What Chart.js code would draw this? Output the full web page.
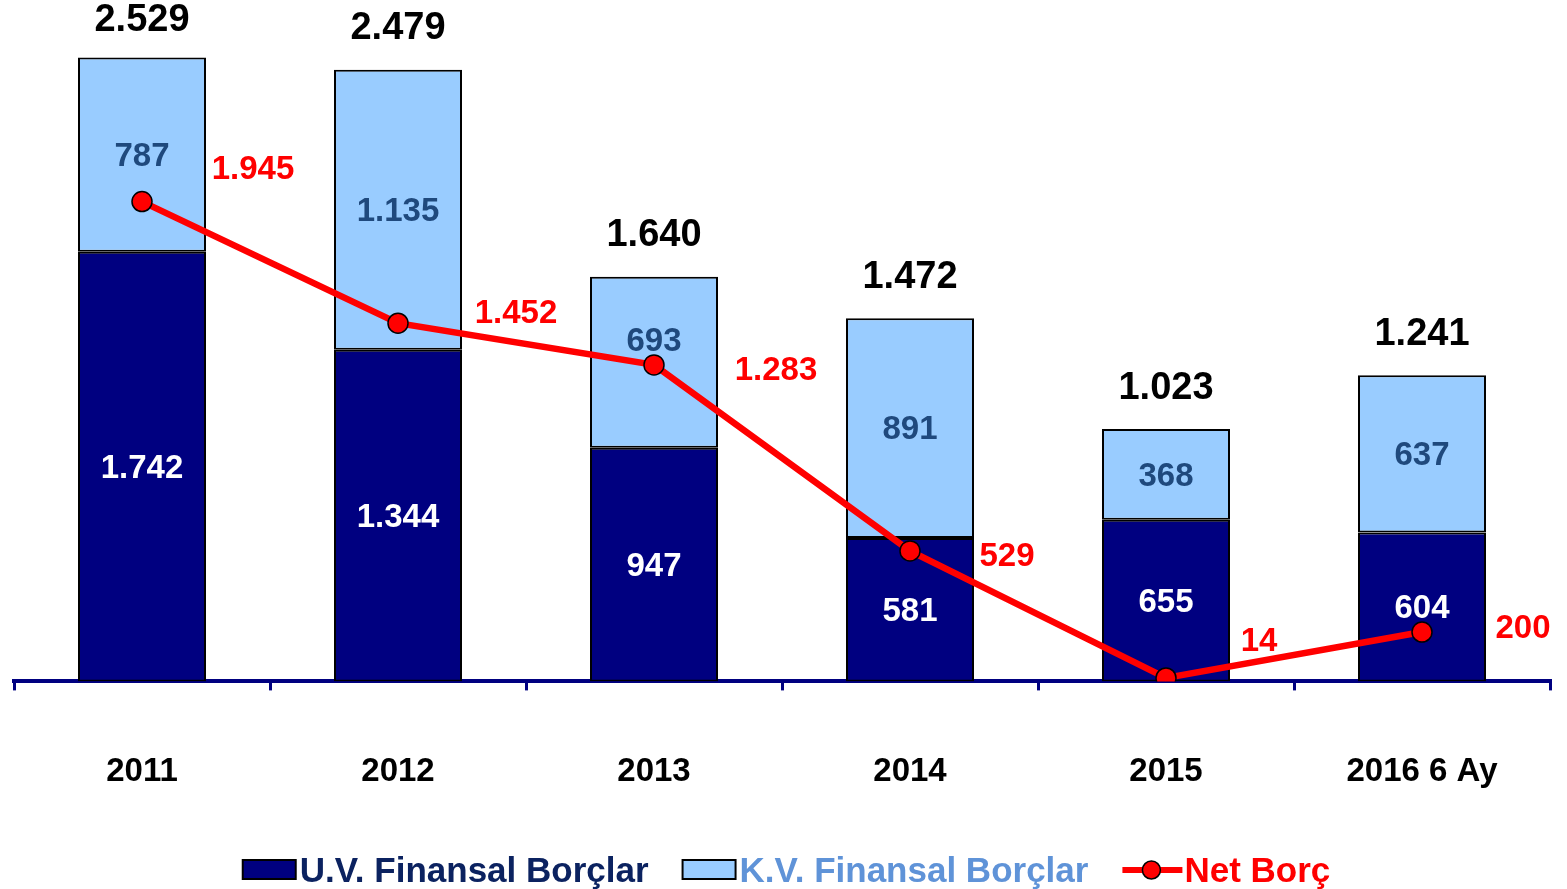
<!DOCTYPE html>
<html>
<head>
    <title>Finansal Borçlar ve Net Borç</title>
    <script src="https://cdn.jsdelivr.net/npm/chart.js"></script>
    <style>
        html, body { margin: 0; padding: 0; background: #fff; }
        #wrap { width: 1567px; height: 889px; position: relative; }
    </style>
</head>
<body>
    <div id="wrap"><canvas id="borcChart"></canvas></div>
    <script>
        // Years and debt figures (million)
        const years = ['2011', '2012', '2013', '2014', '2015', '2016 6 Ay'];
        const uvBorc = [1742, 1344, 947, 581, 655, 604];
        const kvBorc = [787, 1135, 693, 891, 368, 637];
        const toplamBorc = [2529, 2479, 1640, 1472, 1023, 1241];
        const netBorc = [1945, 1452, 1283, 529, 14, 200];

        const DARK = '#000080';
        const LIGHT = '#99ccff';
        const RED = '#ff0000';
        const FONT = '"Liberation Sans", Arial, sans-serif';

        // where the red net labels sit relative to their points
        const netShift = [[111, -32], [118, -9], [122, 6], [97, 6], [93, -36], [101, -3]];
        // nudge for segment labels that would sit under the red line
        const segShift = [0, 0, -22, 0, 0, 0];

        function fmt(v) {
            return String(v).replace(/\B(?=(\d{3})+(?!\d))/g, '.');
        }

        const valueLabels = {
            id: 'valueLabels',
            afterDatasetDraw(chart, args) {
                const ctx = chart.ctx;
                const meta = args.meta;
                const ds = chart.data.datasets[args.index];
                ctx.save();
                ctx.textAlign = 'center';
                ctx.textBaseline = 'middle';
                if (ds.type === 'line') {
                    ctx.font = 'bold 33px ' + FONT;
                    ctx.fillStyle = RED;
                    meta.data.forEach((pt, i) => {
                        ctx.fillText(fmt(ds.data[i]), pt.x + netShift[i][0], pt.y + netShift[i][1]);
                    });
                } else {
                    ctx.font = 'bold 33px ' + FONT;
                    ctx.fillStyle = ds.labelColor;
                    meta.data.forEach((bar, i) => {
                        const dy = ds.showTotal ? segShift[i] : 0;
                        ctx.fillText(fmt(ds.data[i]), bar.x, (bar.y + bar.base) / 2 + 2 + dy);
                    });
                    if (ds.showTotal) {
                        ctx.font = 'bold 38px ' + FONT;
                        ctx.fillStyle = '#000';
                        meta.data.forEach((bar, i) => {
                            ctx.fillText(fmt(toplamBorc[i]), bar.x, Math.max(21, bar.y - 41));
                        });
                    }
                }
                ctx.restore();
            }
        };

        // legend row drawn along the bottom edge
        const bottomLegend = {
            id: 'bottomLegend',
            afterDraw(chart) {
                const ctx = chart.ctx;
                const items = [
                    { kind: 'box', fill: DARK, text: 'U.V. Finansal Borçlar', color: '#0b2260' },
                    { kind: 'box', fill: LIGHT, text: 'K.V. Finansal Borçlar', color: '#5f93d8' },
                    { kind: 'line', fill: RED, text: 'Net Borç', color: RED }
                ];
                ctx.save();
                ctx.font = 'bold 35px ' + FONT;
                ctx.textBaseline = 'alphabetic';
                const symW = [57, 57, 62];
                const gap = 34;
                let total = 0;
                items.forEach((it, i) => {
                    it.w = symW[i] + ctx.measureText(it.text).width;
                    total += it.w + (i ? gap : 0);
                });
                let x = (chart.width - total) / 2 + 3;
                const base = 882;
                items.forEach((it, i) => {
                    if (it.kind === 'box') {
                        ctx.fillStyle = it.fill;
                        ctx.fillRect(x, 860, 53, 19);
                        ctx.lineWidth = 2;
                        ctx.strokeStyle = '#000';
                        ctx.strokeRect(x, 860, 53, 19);
                    } else {
                        ctx.strokeStyle = RED;
                        ctx.lineWidth = 6;
                        ctx.beginPath();
                        ctx.moveTo(x, 870);
                        ctx.lineTo(x + 60, 870);
                        ctx.stroke();
                        ctx.beginPath();
                        ctx.arc(x + 29, 870, 9, 0, Math.PI * 2);
                        ctx.fillStyle = RED;
                        ctx.fill();
                        ctx.lineWidth = 1.5;
                        ctx.strokeStyle = '#000';
                        ctx.stroke();
                    }
                    ctx.fillStyle = it.color;
                    ctx.textAlign = 'left';
                    ctx.fillText(it.text, x + symW[i], base);
                    x += it.w + gap;
                });
                ctx.restore();
            }
        };

        new Chart(document.getElementById('borcChart').getContext('2d'), {
            type: 'bar',
            data: {
                labels: years,
                datasets: [
                    {
                        type: 'line',
                        label: 'Net Borç',
                        data: netBorc,
                        stack: 'net',
                        order: 0,
                        borderColor: RED,
                        borderWidth: 6.5,
                        pointRadius: 10,
                        pointBackgroundColor: RED,
                        pointBorderColor: '#000',
                        pointBorderWidth: 1.5,
                        tension: 0
                    },
                    {
                        label: 'U.V. Finansal Borçlar',
                        data: uvBorc,
                        stack: 'borc',
                        order: 1,
                        backgroundColor: DARK,
                        borderColor: '#000',
                        borderWidth: 2,
                        borderSkipped: false,
                        labelColor: '#fff'
                    },
                    {
                        label: 'K.V. Finansal Borçlar',
                        data: kvBorc,
                        stack: 'borc',
                        order: 2,
                        backgroundColor: LIGHT,
                        borderColor: '#000',
                        borderWidth: 2,
                        borderSkipped: false,
                        labelColor: '#1f497d',
                        showTotal: true
                    }
                ]
            },
            options: {
                responsive: true,
                maintainAspectRatio: false,
                animation: false,
                layout: { padding: { left: 14, right: 17, top: 40, bottom: 35 } },
                datasets: { bar: { categoryPercentage: 1, barPercentage: 0.5 } },
                plugins: {
                    legend: { display: false },
                    tooltip: { enabled: false }
                },
                scales: {
                    x: {
                        stacked: true,
                        grid: {
                            display: true,
                            drawOnChartArea: false,
                            offset: true,
                            color: DARK,
                            lineWidth: 3,
                            tickLength: 9
                        },
                        border: { display: true, color: DARK, width: 4 },
                        ticks: {
                            color: '#000',
                            padding: 62,
                            font: { family: FONT, size: 33, weight: 'bold' }
                        }
                    },
                    y: {
                        stacked: true,
                        display: false,
                        min: 0,
                        max: 2600
                    }
                }
            },
            plugins: [valueLabels, bottomLegend]
        });
    </script>
</body>
</html>
